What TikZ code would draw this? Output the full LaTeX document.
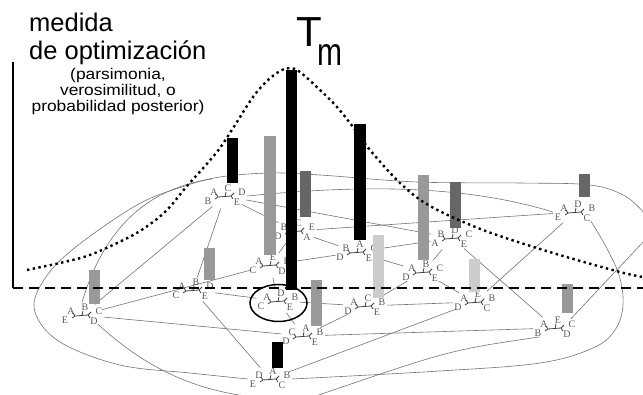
\documentclass[tikz,border=0pt]{standalone}
\usepackage{fontspec}
\setmainfont{Liberation Sans}
\newfontfamily\treefont{Liberation Serif}
\usetikzlibrary{shapes.geometric}
\newcommand\treeg[6]{%
  \begin{scope}[shift={(#1.center)}]
    \node[tl] at (-11,-4) {#2};
    \node[tl] at (3,-8) {#3};
    \node[tl] at (17,-4) {#4};
    \node[tl] at (-17,5) {#5};
    \node[tl] at (12,6) {#6};
    \draw[treeln] (-7,1) -- (6,0) (-7,1) -- (-9,-2) (-7,1) -- (-10,3)
      (0,0.5) -- (1,-4) (6,0) -- (9,-3) (6,0) -- (8,3);
  \end{scope}}
\begin{document}
\begin{tikzpicture}[x=1pt,y=-1pt,
  tn/.style={ellipse,minimum width=44pt,minimum height=25pt,inner sep=0pt},
  tl/.style={font=\treefont\fontsize{10}{10}\selectfont,text=black!65,inner sep=0pt},
  net/.style={draw=black!55,line width=0.6pt},
  treeln/.style={draw=black!75,line width=0.8pt},
  bk/.style={fill=black},
  gr/.style={fill=black!40},
  dk/.style={fill=black!60},
  lt/.style={fill=black!20},
  big/.style={font=\fontsize{25.5}{28}\selectfont,inner sep=0pt},
  sml/.style={font=\fontsize{15.5}{15.5}\selectfont,inner sep=0pt,anchor=base,xscale=1.12}]
\useasboundingbox (0,0) rectangle (643,395);
% tree nodes
\node[tn] (t1) at (225,196) {};
\node[tn] (t2) at (295,231) {};
\node[tn] (t3) at (270,265) {};
\node[tn] (t4) at (193,290) {};
\node[tn] (t5) at (82,315) {};
\node[tn] (t6) at (278,301) {};
\node[tn] (t7) at (303,336) {};
\node[tn] (t8) at (270,379) {};
\node[tn] (t9) at (357,252) {};
\node[tn] (t10) at (423,272) {};
\node[tn] (t11) at (365,306) {};
\node[tn] (t12) at (452,238) {};
\node[tn] (t13) at (475,302) {};
\node[tn] (t14) at (575,212) {};
\node[tn] (t15) at (555,328) {};
% network
\draw[net] (t1) -- (t5);
\draw[net] (t1) -- (t4);
\draw[net] (t1) -- (t2);
\draw[net] (t1) -- (t12);
\draw[net] (t1.east) .. controls (330,188) and (450,180) .. (t14.west);
\draw[net] (t2) -- (t14);
\draw[net] (t2) -- (t9);
\draw[net] (t2) -- (t3);
\draw[net] (t3) -- (t9);
\draw[net] (t3) -- (t5);
\draw[net] (t3) -- (t6);
\draw[net] (t4) -- (t6);
\draw[net] (t4) -- (t8);
\draw[net] (t5) -- (t7);
\draw[net] (t5.south east) .. controls (150,372) and (200,392) .. (262,398);
\draw[net] (t6) -- (t7);
\draw[net] (t6) -- (t11);
\draw[net] (t7) -- (t11);
\draw[net] (t7) -- (t15);
\draw[net] (t8) -- (t13);
\draw[net] (t9) -- (t12);
\draw[net] (t9) -- (t10);
\draw[net] (t10) -- (t11);
\draw[net] (t10) -- (t12);
\draw[net] (t10) -- (t13);
\draw[net] (t11) -- (t13);
\draw[net] (t12) -- (t15);
\draw[net] (t13) -- (t14);
\draw[net] (t15.north east) -- (645,240);
\draw[net] (t15.south west) .. controls (450,350) .. (310,398);
\draw[net] plot[smooth,tension=0.6] coordinates {(t8.west) (190,373) (120,365) (60,342) (35,312) (42,283) (72,250) (137,205) (185,186) (220,177) (270,173) (320,175) (417,182) (520,183) (590,185) (625,196) (645,214)};
\draw[net] (t5.north) .. controls (105,225) and (150,188) .. (212,179);
\draw[net] plot[smooth,tension=0.6] coordinates {(t14.south east) (605,245) (619,275) (623,305) (615,330) (593,348) (540,363) (440,371) (t8.east)};
% tree glyphs
\treeg{t1}{A}{C}{D}{B}{E}
\treeg{t2}{B}{C}{E}{D}{A}
\treeg{t3}{A}{E}{B}{C}{D}
\treeg{t4}{A}{B}{D}{C}{E}
\treeg{t5}{A}{B}{C}{E}{D}
\treeg{t6}{A}{D}{B}{C}{E}
\treeg{t7}{C}{A}{B}{D}{E}
\treeg{t8}{D}{A}{B}{E}{C}
\treeg{t9}{B}{A}{C}{D}{E}
\treeg{t10}{A}{B}{C}{D}{E}
\treeg{t11}{A}{C}{B}{D}{E}
\treeg{t12}{B}{D}{C}{A}{E}
\treeg{t13}{A}{E}{B}{D}{C}
\treeg{t14}{A}{D}{B}{E}{C}
\treeg{t15}{A}{E}{C}{B}{D}
% bars
\fill[bk] (227,138) rectangle (238,183);
\fill[gr] (264,136) rectangle (276,255);
\fill[bk] (286,70) rectangle (297,290);
\fill[dk] (300,171) rectangle (311,217);
\fill[bk] (354,124) rectangle (366,240);
\fill[lt] (373,235) rectangle (384,298);
\fill[gr] (418,175) rectangle (429,260);
\fill[dk] (450,182) rectangle (461,228);
\fill[lt] (469,259) rectangle (480,292);
\fill[dk] (579,174) rectangle (590,197);
\fill[gr] (562,284) rectangle (573,313);
\fill[gr] (89,270) rectangle (100,304);
\fill[gr] (204,248) rectangle (215,280);
\fill[gr] (311,280) rectangle (322,326);
\fill[bk] (272,342) rectangle (283,368);
% axis and threshold
\coordinate (axtop) at (13,62);
\coordinate (axbot) at (13,288);
\coordinate (dend) at (643,288);
\draw[line width=1.5pt] (axtop) -- (axbot);
\draw[line width=2pt,dash pattern=on 10pt off 6pt] (axbot) -- (dend);
% optimum curve
\draw[line width=2.4pt,dash pattern=on 2.4pt off 3.4pt] plot[smooth,tension=0.55] coordinates {(27,270) (60,263) (87,256) (113,245) (140,231) (165,212) (187,186) (205,166) (220,148) (235,125) (253,97) (267,81) (280,71) (290,68) (300,72) (320,90) (337,107) (353,127) (370,150) (400,183) (430,206) (483,230) (553,253) (620,272) (643,277)};
% circle
\draw[line width=1.5pt] (278.5,303) ellipse [x radius=28.5, y radius=18.5];
% texts
\node[big,anchor=base west] (l1) at (29,32) {medida};
\node[big,anchor=base west] (l2) at (29,60) {de optimización};
\node[sml] (l3) at (118,80) {(parsimonia,};
\node[sml] (l4) at (118,96) {verosimilitud, o};
\node[sml] (l5) at (118,112) {probabilidad posterior)};
\node[font=\fontsize{42}{42}\selectfont,inner sep=0pt,anchor=base west] (tT) at (296,47) {T};
\node[font=\fontsize{30}{30}\selectfont,inner sep=0pt,anchor=base west,yscale=1.3] (tm) at (317,66) {m};
\end{tikzpicture}
\end{document}
